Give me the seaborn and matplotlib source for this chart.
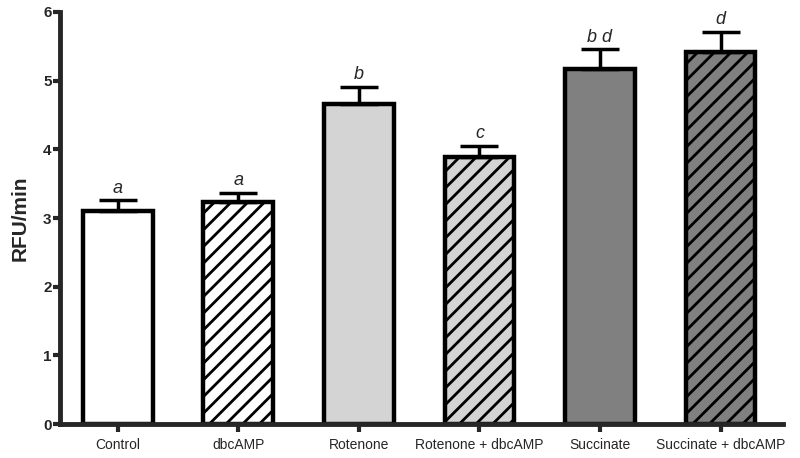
"""Bar chart: RFU/min per treatment with SEM caps and significance letters."""
import matplotlib
matplotlib.use('Agg')
import matplotlib.pyplot as plt
import seaborn as sns
import pandas as pd

groups = ['Control', 'dbcAMP', 'Rotenone', 'Rotenone + dbcAMP', 'Succinate', 'Succinate + dbcAMP']
rfu = [3.10, 3.24, 4.66, 3.89, 5.17, 5.41]
sem = [0.16, 0.13, 0.25, 0.16, 0.29, 0.30]
letters = ['a', 'a', 'b', 'c', 'b d', 'd']
fills = ['#ffffff', '#ffffff', '#d4d4d4', '#d4d4d4', '#808080', '#808080']
hatches = ['', '//', '', '//', '', '//']

sns.set_style('ticks')
plt.rcParams['font.family'] = ['Liberation Sans', 'DejaVu Sans']
plt.rcParams['hatch.linewidth'] = 2.0

df = pd.DataFrame({'group': groups, 'rfu': rfu})

fig = plt.figure(figsize=(8, 4.58), dpi=100)
ax = fig.add_axes([0.075, 0.074, 0.904, 0.9])

sns.barplot(data=df, x='group', y='rfu', hue='group', palette=fills, legend=False,
            width=0.58, edgecolor='black', linewidth=3.2, errorbar=None, ax=ax)

for bar, h in zip(ax.patches, hatches):
    bar.set_hatch(h)

xs = [b.get_x() + b.get_width() / 2 for b in ax.patches]
ax.errorbar(xs, rfu, yerr=[[0] * len(sem), sem], fmt='none', ecolor='black',
            elinewidth=2.5, capsize=14, capthick=2.5, zorder=1)

for x, y, e, t in zip(xs, rfu, sem, letters):
    ax.text(x, y + e + 0.05, t, ha='center', va='bottom', fontsize=13, style='italic')

ax.set_xlim(-0.48, 5.52)
ax.set_ylim(0, 6)
ax.set_yticks(range(7))
ax.set_xlabel('')
ax.set_ylabel('RFU/min', fontsize=15, fontweight='bold', labelpad=10)

for s in ['top', 'right']:
    ax.spines[s].set_visible(False)
for s in ['left', 'bottom']:
    ax.spines[s].set_linewidth(3.5)

ax.tick_params(axis='y', length=5, width=3, labelsize=11, pad=1)
ax.tick_params(axis='x', length=6, width=3, labelsize=10, pad=4)
for lab in ax.get_yticklabels():
    lab.set_fontweight('bold')

fig.savefig('out.png', dpi=100)
